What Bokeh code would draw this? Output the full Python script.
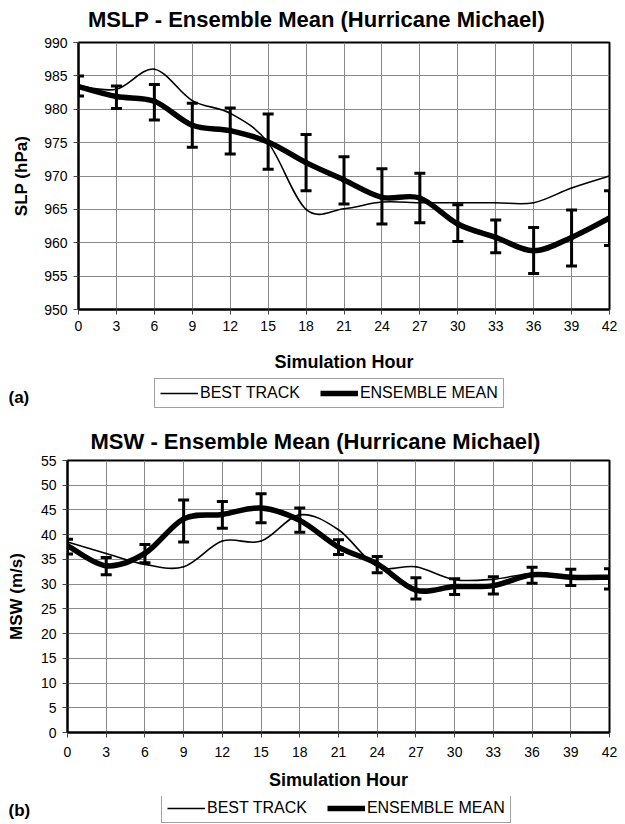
from bokeh.plotting import figure
from bokeh.models import (Legend, LegendItem, Label, FixedTicker, Range1d,
                          ColumnDataSource)
from bokeh.embed import file_html
from bokeh.resources import INLINE

# ---------------- data ----------------
hours = [0, 3, 6, 9, 12, 15, 18, 21, 24, 27, 30, 33, 36, 39, 42]

slp_best = [983.5, 983.0, 986.0, 981.3, 979.4, 975.0, 965.0, 965.1,
            966.1, 966.0, 966.0, 966.0, 966.0, 968.2, 970.0]
slp_ens = [983.4, 981.9, 981.2, 977.6, 976.8, 975.1, 972.0, 969.4,
           966.8, 966.7, 962.8, 960.8, 958.8, 960.8, 963.7]
slp_hi = [985.0, 983.5, 983.7, 980.9, 980.2, 979.3, 976.2, 972.9,
          971.1, 970.4, 965.7, 963.4, 962.3, 964.9, 967.8]
slp_lo = [982.0, 980.1, 978.4, 974.3, 973.3, 971.0, 967.8, 965.8,
          962.8, 963.0, 960.2, 958.5, 955.4, 956.5, 959.6]

msw_best = [38.5, 36.2, 34.0, 33.5, 38.7, 38.7, 44.0, 41.0,
            33.6, 33.5, 30.9, 31.0, 32.1, 31.4, 31.4]
msw_ens = [37.8, 33.7, 36.2, 43.2, 44.1, 45.4, 42.9, 37.5,
           34.1, 28.8, 29.5, 29.7, 31.9, 31.4, 31.4]
msw_hi = [39.1, 35.4, 38.0, 47.0, 46.7, 48.3, 45.4, 39.0,
          35.6, 31.3, 31.1, 31.5, 33.4, 33.0, 33.1]
msw_lo = [36.1, 31.9, 34.3, 38.5, 41.3, 42.4, 40.5, 36.0,
          32.3, 27.0, 27.9, 28.0, 30.2, 29.7, 29.0]

slp_ticks = [950, 955, 960, 965, 970, 975, 980, 985, 990]
msw_ticks = [0, 5, 10, 15, 20, 25, 30, 35, 40, 45, 50, 55]

series_names = ["BEST TRACK", "ENSEMBLE MEAN"]
titles = ["MSLP - Ensemble Mean (Hurricane Michael)",
          "MSW - Ensemble Mean (Hurricane Michael)"]

FONT = "Liberation Sans"
THIN = 1.6
THICK = 5.5
W = 625


def smooth_segments(xs, ys):
    """Bezier control points of a smoothed (Catmull-Rom style) line."""
    n = len(xs)
    d = {k: [] for k in ("x0", "y0", "x1", "y1", "cx0", "cy0", "cx1", "cy1")}
    for i in range(n - 1):
        ip = i - 1 if i > 0 else i
        inn = i + 2 if i + 2 < n else i + 1
        d["x0"].append(xs[i]); d["y0"].append(ys[i])
        d["x1"].append(xs[i + 1]); d["y1"].append(ys[i + 1])
        d["cx0"].append(xs[i] + (xs[i + 1] - xs[ip]) / 6.0)
        d["cy0"].append(ys[i] + (ys[i + 1] - ys[ip]) / 6.0)
        d["cx1"].append(xs[i + 1] - (xs[inn] - xs[i]) / 6.0)
        d["cy1"].append(ys[i + 1] - (ys[inn] - ys[i]) / 6.0)
    return ColumnDataSource(d)


def strip(height):
    s = figure(width=W, height=height, x_range=Range1d(0, 42),
               y_range=Range1d(0, 1), x_axis_type=None, y_axis_type=None,
               output_backend="svg", toolbar_location=None,
               min_border_left=0, min_border_right=0, min_border_top=0,
               min_border_bottom=0, background_fill_color="white",
               border_fill_color="white")
    s.outline_line_color = None
    s.grid.visible = False
    return s


def make_title_strip(text, height, x, y):
    s = strip(height)
    s.add_layout(Label(x=x, y=y, x_units="screen", y_units="screen",
                       text=text, text_font=FONT, text_font_size="22px",
                       text_font_style="bold", text_color="black",
                       text_align="center", text_baseline="alphabetic"))
    return s


def make_panel(title, title_offset, title_standoff, ylabel, ylabel_standoff,
               xlabel_standoff, xtick_standoff, yr, yticks, best, ens, hi, lo,
               left, frame_w, frame_h, top, bottom):
    p = figure(width=W, height=top + frame_h + bottom,
               x_range=Range1d(0, 42), y_range=Range1d(*yr),
               output_backend="svg", toolbar_location=None,
               min_border_left=left, min_border_right=W - left - frame_w,
               min_border_top=top, min_border_bottom=bottom,
               background_fill_color="white", border_fill_color="white")
    p.outline_line_color = "black"
    p.outline_line_width = 2

    if title is None:
        p.title = None
    else:
        p.title.text = title
        p.title.text_font = FONT
        p.title.text_font_size = "22px"
        p.title.text_font_style = "bold"
        p.title.align = "left"
        p.title.offset = title_offset
        p.title.standoff = title_standoff
        p.title.text_color = "black"

    for ax in (p.xaxis[0], p.yaxis[0]):
        ax.axis_line_color = "black"
        ax.axis_line_width = 2
        ax.major_tick_out = 5
        ax.major_tick_in = 0
        ax.minor_tick_out = 0
        ax.minor_tick_in = 0
        ax.major_tick_line_color = "#444444"
        ax.major_label_text_font = FONT
        ax.major_label_text_font_size = "14px"
        ax.major_label_text_color = "black"
        ax.major_label_standoff = 6
        ax.axis_label_text_font = FONT
        ax.axis_label_text_font_style = "bold"
        ax.axis_label_text_color = "black"
    p.xaxis.ticker = FixedTicker(ticks=hours)
    p.yaxis.ticker = FixedTicker(ticks=yticks)
    p.xaxis.major_label_standoff = xtick_standoff
    p.xaxis.axis_label = "Simulation Hour"
    p.xaxis.axis_label_text_font_size = "18px"
    p.xaxis.axis_label_standoff = xlabel_standoff
    p.yaxis.axis_label = ylabel
    p.yaxis.axis_label_text_font_size = "17px"
    p.yaxis.axis_label_standoff = ylabel_standoff

    for g in (p.xgrid[0], p.ygrid[0]):
        g.grid_line_color = "#8a8a8a"
        g.grid_line_width = 1

    src_b = smooth_segments(hours, best)
    src_e = smooth_segments(hours, ens)
    p.bezier(x0="x0", y0="y0", x1="x1", y1="y1", cx0="cx0",
             cy0="cy0", cx1="cx1", cy1="cy1", source=src_b,
             line_color="black", line_width=THIN, line_cap="round")
    p.bezier(x0="x0", y0="y0", x1="x1", y1="y1", cx0="cx0",
             cy0="cy0", cx1="cx1", cy1="cy1", source=src_e,
             line_color="black", line_width=THICK, line_cap="round")

    err = ColumnDataSource(dict(x=hours, hi=hi, lo=lo))
    p.segment(x0="x", y0="lo", x1="x", y1="hi", source=err,
              line_color="black", line_width=3)
    p.scatter(x="x", y="hi", source=err, marker="dash", size=11,
              line_color="black", line_width=3)
    p.scatter(x="x", y="lo", source=err, marker="dash", size=11,
              line_color="black", line_width=3)
    return p


def make_legend_strip(tag, height, best, ens, leg_x, leg_y, tag_y):
    s = strip(height)
    # hidden copies of the two series: only their legend samples are shown
    r_thin = s.line(x=hours, y=best, line_color="black", line_width=THIN,
                    visible=False)
    r_thick = s.line(x=hours, y=ens, line_color="black", line_width=THICK,
                     visible=False)
    legend = Legend(items=[LegendItem(label=series_names[0], renderers=[r_thin]),
                           LegendItem(label=series_names[1], renderers=[r_thick])],
                    orientation="horizontal", location=(leg_x, leg_y))
    legend.label_text_font = FONT
    legend.label_text_font_size = "16px"
    legend.label_text_color = "black"
    legend.glyph_width = 38
    legend.glyph_height = 16
    legend.label_height = 16
    legend.label_standoff = 2
    legend.spacing = 20
    legend.padding = 5
    legend.margin = 0
    legend.border_line_color = "#444444"
    legend.border_line_width = 1
    legend.background_fill_color = "white"
    legend.background_fill_alpha = 1
    legend.inactive_fill_alpha = 0
    legend.click_policy = "none"
    s.add_layout(legend, "center")
    s.add_layout(Label(x=8, y=tag_y, x_units="screen", y_units="screen",
                       text=tag, text_font=FONT, text_font_size="17px",
                       text_font_style="bold", text_color="black",
                       text_baseline="middle"))
    return s


t1 = make_title_strip(titles[0], 34, 316, 15)
p1 = make_panel(None, 0, 0, "SLP (hPa)", 10, 18, 6, (950, 990), slp_ticks,
                slp_best, slp_ens, slp_hi, slp_lo,
                78, 531, 267, 8, 69)
s1 = make_legend_strip("(a)", 34, slp_best, slp_ens, 154, 4, 15)
p2 = make_panel(titles[1], 23, 14,
                "MSW (m/s)", 12, 10, 9, (0, 55), msw_ticks,
                msw_best, msw_ens, msw_hi, msw_lo,
                67, 542, 272, 48, 64)
s2 = make_legend_strip("(b)", 28, msw_best, msw_ens, 161, 1, 14)

open("out.html", "w").write(file_html([t1, p1, s1, p2, s2], INLINE))
